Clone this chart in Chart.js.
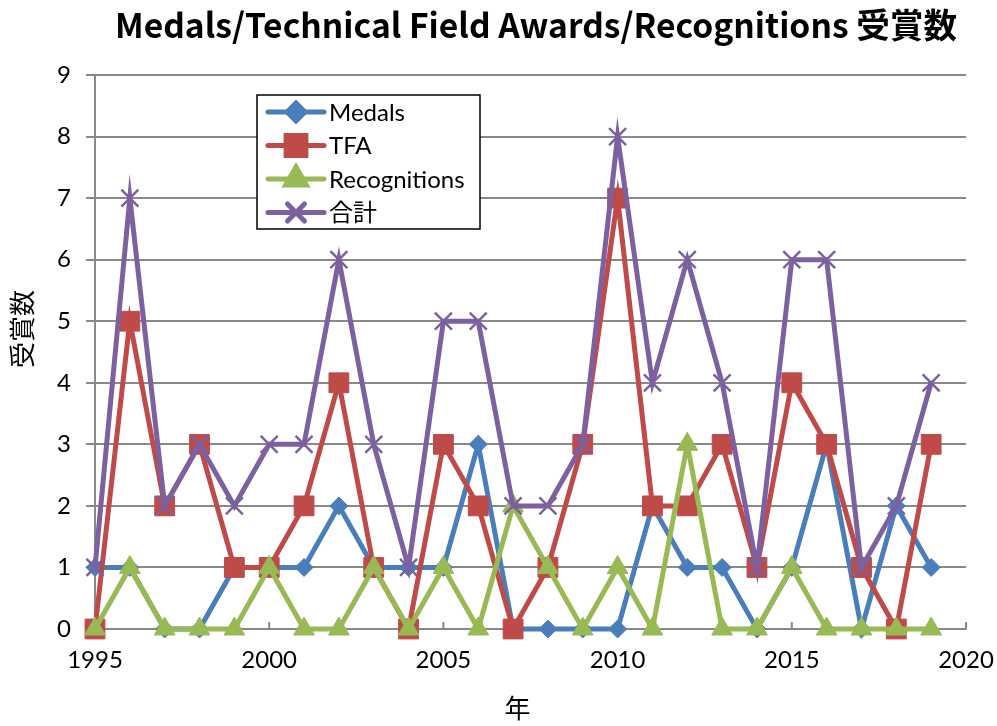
<!DOCTYPE html>
<html>
<head>
<meta charset="utf-8">
<script src="https://cdn.jsdelivr.net/npm/chart.js@4/dist/chart.umd.min.js"></script>
<style>
  body { margin: 0; background: #fff; }
  canvas { display: block; }
</style>
</head>
<body>
<canvas id="awardsChart" width="997" height="726"></canvas>
<script>
const years = [1995, 1996, 1997, 1998, 1999, 2000, 2001, 2002, 2003, 2004, 2005, 2006, 2007,
    2008, 2009, 2010, 2011, 2012, 2013, 2014, 2015, 2016, 2017, 2018, 2019];
const medals = [1, 1, 0, 0, 1, 1, 1, 2, 1, 1, 1, 3, 0, 0, 0, 0, 2, 1, 1, 0, 1, 3, 0, 2, 1];
const tfa = [0, 5, 2, 3, 1, 1, 2, 4, 1, 0, 3, 2, 0, 1, 3, 7, 2, 2, 3, 1, 4, 3, 1, 0, 3];
const recognitions = [0, 1, 0, 0, 0, 1, 0, 0, 1, 0, 1, 0, 2, 1, 0, 1, 0, 3, 0, 0, 1, 0, 0, 0, 0];
const totals = [1, 7, 2, 3, 2, 3, 3, 6, 3, 1, 5, 5, 2, 2, 3, 8, 4, 6, 4, 1, 6, 6, 1, 2, 4];
const seriesNames = ['Medals', 'TFA', 'Recognitions', '合計'];
const xTicks = [1995, 2000, 2005, 2010, 2015, 2020];

const titleText = 'Medals/Technical Field Awards/Recognitions 受賞数';
const latinFont = 'Lato, "Noto Sans CJK JP", sans-serif';
const gridColor = '#898989';

function points(values) {
    return years.map(function (yr, i) { return { x: yr, y: values[i] }; });
}

function series(name, values, color, style, radius, order, pbw) {
    return {
        label: name,
        data: points(values),
        borderColor: color,
        backgroundColor: color,
        borderWidth: 5,
        pointStyle: style,
        pointRadius: radius,
        pointHoverRadius: radius,
        pointBorderWidth: pbw,
        pointBorderColor: color,
        pointBackgroundColor: color,
        tension: 0,
        order: order,
        clip: false
    };
}

// title, legend box and inner x tick marks
const decor = {
    id: 'decor',
    beforeDatasetsDraw(chart) {
        const ctx = chart.ctx;
        const xs = chart.scales.x;
        const bottom = chart.chartArea.bottom;
        ctx.save();
        ctx.strokeStyle = gridColor;
        ctx.lineWidth = 2;
        xTicks.forEach(function (t) {
            const px = xs.getPixelForValue(t);
            ctx.beginPath();
            ctx.moveTo(px, bottom);
            ctx.lineTo(px, bottom - 7);
            ctx.stroke();
        });
        ctx.restore();
    },
    afterDraw(chart) {
        const ctx = chart.ctx;
        ctx.save();
        // title, squeezed to the reference width
        ctx.font = 'bold 34px "Noto Sans CJK JP", sans-serif';
        ctx.fillStyle = '#000';
        ctx.textBaseline = 'alphabetic';
        ctx.textAlign = 'left';
        const w = ctx.measureText(titleText).width;
        ctx.translate(115, 37.5);
        ctx.scale(842 / w, 1);
        ctx.fillText(titleText, 0, 0);
        ctx.restore();

        // legend
        ctx.save();
        ctx.fillStyle = '#fff';
        ctx.fillRect(257, 95, 223, 134);
        ctx.strokeStyle = '#000';
        ctx.lineWidth = 1.5;
        ctx.strokeRect(257, 95, 223, 134);
        ctx.font = '24px ' + latinFont;
        ctx.textBaseline = 'middle';
        ctx.textAlign = 'left';
        chart.data.datasets.forEach(function (ds, i) {
            const cy = 112 + i * 33.5;
            ctx.strokeStyle = ds.borderColor;
            ctx.lineWidth = 5;
            ctx.lineCap = 'round';
            ctx.beginPath();
            ctx.moveTo(268, cy);
            ctx.lineTo(324, cy);
            ctx.stroke();
            ctx.fillStyle = ds.backgroundColor;
            Chart.helpers.drawPoint(ctx, {
                pointStyle: ds.pointStyle,
                radius: ds.pointRadius,
                rotation: 0,
                borderWidth: ds.pointBorderWidth
            }, 296, cy);
            ctx.fillStyle = '#000';
            ctx.fillText(ds.label, 329, cy + 1);
        });
        ctx.restore();
    }
};

const ctx = document.getElementById('awardsChart').getContext('2d');
new Chart(ctx, {
    type: 'line',
    data: {
        datasets: [
            series(seriesNames[0], medals, '#4A7EBB', 'rectRot', 9, 4, 1),
            series(seriesNames[1], tfa, '#BE4B48', 'rect', 14, 3, 1),
            series(seriesNames[2], recognitions, '#98B954', 'triangle', 12, 2, 1),
            series(seriesNames[3], totals, '#7D60A0', 'crossRot', 12, 1, 2.5)
        ]
    },
    options: {
        responsive: false,
        animation: false,
        events: [],
        layout: { padding: { top: 75, right: 31, left: 0, bottom: 0 } },
        plugins: {
            legend: { display: false },
            title: { display: false },
            tooltip: { enabled: false }
        },
        scales: {
            x: {
                type: 'linear',
                min: 1995,
                max: 2020,
                afterFit: function (s) {
                    s.height = 97;
                    s.paddingLeft = 0;
                    s.paddingRight = 0;
                },
                afterBuildTicks: function (s) {
                    s.ticks = xTicks.map(function (v) { return { value: v }; });
                },
                ticks: {
                    font: { family: latinFont, size: 24 },
                    color: '#000',
                    padding: 17,
                    maxRotation: 0,
                    callback: function (v) { return String(v); }
                },
                grid: { drawOnChartArea: false, drawTicks: false },
                border: { color: gridColor, width: 2 },
                title: {
                    display: true,
                    text: '年　',
                    font: { family: latinFont, size: 26 },
                    color: '#000',
                    padding: { top: 0, bottom: 1 }
                }
            },
            y: {
                min: 0,
                max: 9,
                afterFit: function (s) {
                    s.width = 95;
                    s.paddingTop = 0;
                    s.paddingBottom = 0;
                },
                ticks: {
                    stepSize: 1,
                    font: { family: latinFont, size: 24 },
                    color: '#000',
                    padding: 15
                },
                grid: { color: gridColor, lineWidth: 2, tickLength: 9 },
                border: { color: gridColor, width: 2 },
                title: {
                    display: true,
                    text: '　   受賞数',
                    font: { family: latinFont, size: 26 },
                    color: '#000',
                    padding: { top: 8, bottom: 0 }
                }
            }
        }
    },
    plugins: [decor]
});
</script>
</body>
</html>
